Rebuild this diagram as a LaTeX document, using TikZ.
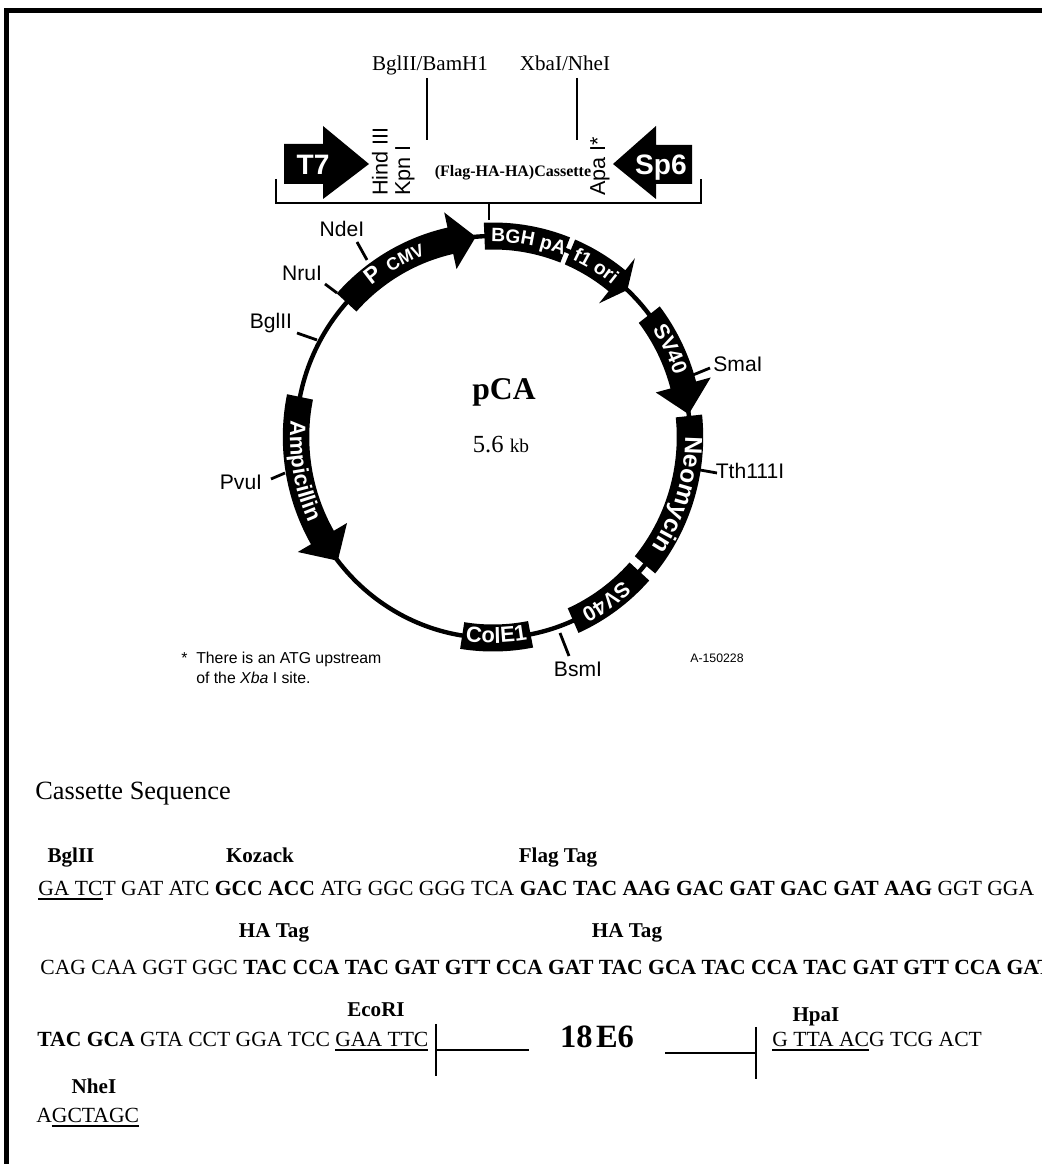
\documentclass[tikz,border=0pt]{standalone}
\usepackage{fontspec}
\setmainfont{Liberation Serif}
\setsansfont{Liberation Sans}
\usetikzlibrary{decorations.text}
\newcommand{\pt}[1]{\fontsize{#1}{#1}\selectfont}
\newcommand{\ubar}[1]{\leavevmode\vtop{\hbox{#1}\kern1pt\hrule height 0.9pt}}
\def\rout{214.5}
\def\rin{187.5}
\def\rmid{201}
\newcommand{\plasmidbar}[2]{\fill (#1:\rout) arc[start angle=#1,end angle=#2,radius=\rout]
  -- (#2:\rin) arc[start angle=#2,end angle=#1,radius=\rin] -- cycle;}
\newcommand{\plasmidarrow}[3]{\fill (#1:\rout) arc[start angle=#1,end angle=#2,radius=\rout]
  -- (#2:230) -- (#3:\rmid) -- (#2:172) -- (#2:\rin) arc[start angle=#2,end angle=#1,radius=\rin] -- cycle;}
\newcommand{\bandlabel}[4]{\path[decorate,decoration={text along path,text align=center,
  text={|\color{white}\sffamily\bfseries\pt{#4}|#3}}] (#1:#2) arc[start angle=#1,end angle=#1+\bandspan,radius=#2];}
\begin{document}
\begin{tikzpicture}[x=0.02cm,y=0.02cm,
   ringline/.style={line width=2.5pt},
   sitetick/.style={line width=1.6pt},
   bracket/.style={line width=1.5pt},
   hairline/.style={line width=1.3pt},
   enzyme/.style={font=\sffamily\pt{12},inner sep=0pt},
   vlabel/.style={font=\sffamily\pt{12.3},inner sep=0pt,rotate=90,anchor=west},
   promoter/.style={font=\sffamily\bfseries\pt{16},text=white,inner sep=0pt,anchor=base},
   sitelabel/.style={font=\pt{12},inner sep=0pt,anchor=base},
   seqline/.style={font=\pt{12.3},inner sep=0pt,anchor=base west},
   taglabel/.style={font=\bfseries\pt{12},inner sep=0pt,anchor=base}]
  \useasboundingbox (0,0) rectangle (1042,1164);
  \fill[white] (0,0) rectangle (1042,1164);
  \draw[line width=2.8pt] (6.5,0) -- (6.5,1153.5) -- (1042,1153.5);

  \node[sitelabel] (bglbam) at (430,1093) {BglII/BamH1};
  \node[sitelabel] (xbanhe) at (565,1093) {XbaI/NheI};
  \draw[sitetick] (427,1086) -- (427,1024);
  \draw[sitetick] (577,1086) -- (577,1024);
  \fill (284,1020) -- (323,1020) -- (323,1038) -- (369,1000) -- (323,965) -- (323,980) -- (284,980) -- cycle;
  \node[promoter] (tseven) at (313,989) {T7};
  \fill (692,1019) -- (656,1019) -- (656,1038) -- (613,1000) -- (656,965) -- (656,980) -- (692,980) -- cycle;
  \node[promoter] (spsix) at (661,989) {Sp6};
  \node[vlabel] (hind) at (380,968) {Hind III};
  \node[vlabel] (kpn) at (405,968) {Kpn I};
  \node[vlabel] (apa) at (600,968) {Apa I*};
  \node[font=\bfseries\pt{9.1},inner sep=0pt] (cassette) at (513,991) {(Flag-HA-HA)Cassette};
  \draw[bracket] (276,985) -- (276,961) -- (701,961) -- (701,985);
  \draw[bracket] (489,961) -- (489,944);

  \begin{scope}[shift={(493,727)},xscale=0.98]
    \draw[ringline] (0,0) circle[radius=\rmid];
    \plasmidarrow{138}{102.5}{95}
    \plasmidbar{92.5}{68.5}
    \plasmidarrow{67}{51}{47}
    \plasmidarrow{37.5}{15}{6.5}
    \plasmidbar{6}{-39.5}
    \plasmidbar{-42}{-66}
    \plasmidbar{-79}{-99}
    \plasmidarrow{168.5}{210}{218}
    \def\bandspan{-24}\bandlabel{139}{195}{P}{13}
    \def\bandspan{-24}\bandlabel{128.5}{195}{CMV}{10}
    \def\bandspan{-26}\bandlabel{92.5}{195}{BGH pA}{11}
    \def\bandspan{-24}\bandlabel{70.5}{195}{f1 ori}{11}
    \def\bandspan{-26}\bandlabel{39}{195}{SV40}{12}
    \def\bandspan{-44}\bandlabel{5}{196}{Neomycin}{14}
    \def\bandspan{-24}\bandlabel{-43}{195}{SV40}{12}
    \def\bandspan{20}\bandlabel{-99}{206}{ColE1}{12.5}
    \def\bandspan{40}\bandlabel{170}{207}{Ampicillin}{12.5}
  \end{scope}

  \draw[sitetick] (357,922) -- (367,904);
  \draw[sitetick] (325,880) -- (337,871);
  \draw[sitetick] (297,831) -- (317,824);
  \draw[sitetick] (271,685) -- (285,691);
  \draw[sitetick] (693,789) -- (710,796);
  \draw[sitetick] (700,694) -- (717,691);
  \draw[sitetick] (560,531) -- (569,508);
  \node[enzyme] (ndei) at (342,935) {NdeI};
  \node[enzyme] (nrui) at (302,891) {NruI};
  \node[enzyme] (bglii) at (271,841) {BglII};
  \node[enzyme] (pvui) at (241,682) {PvuI};
  \node[enzyme] (smai) at (738,800) {SmaI};
  \node[enzyme] (tth) at (750,693) {Tth111I};
  \node[enzyme] (bsmi) at (578,495) {BsmI};
  \node[font=\bfseries\pt{18},inner sep=0pt] (pca) at (504,772) {pCA};
  \node[font=\pt{14},inner sep=0pt] (size) at (501,719) {5.6 {\pt{11}kb}};
  \node[font=\sffamily\fontsize{9}{11.3}\selectfont,inner sep=0pt,anchor=west,align=left] (note) at (181,496)
    {*\hspace{5pt}There is an ATG upstream\\\hspace{8.5pt}of the \textit{Xba} I site.};
  \node[font=\sffamily\pt{7},inner sep=0pt] (code) at (717,506) {A-150228};

  \node[seqline,font=\pt{15}] (title) at (35,364) {Cassette Sequence};
  \node[taglabel] (lbgl) at (71,301) {BglII};
  \node[taglabel] (lkoz) at (260,301) {Kozack};
  \node[taglabel] (lflag) at (558,301) {Flag Tag};
  \node[seqline] (seqa) at (38,268) {\ubar{GA TC}T GAT ATC \textbf{GCC ACC} ATG GGC GGG TCA \textbf{GAC TAC AAG GAC GAT GAC GAT AAG} GGT GGA};
  \node[taglabel] (lhaa) at (274,226) {HA Tag};
  \node[taglabel] (lhab) at (627,226) {HA Tag};
  \node[seqline] (seqb) at (40,189) {CAG CAA GGT GGC \textbf{TAC CCA TAC GAT GTT CCA GAT TAC GCA TAC CCA TAC GAT GTT CCA GAT}};
  \node[taglabel] (leco) at (376,147) {EcoRI};
  \node[taglabel] (lhpa) at (816,142) {HpaI};
  \node[seqline] (seqc) at (37,117) {\textbf{TAC GCA} GTA CCT GGA TCC \ubar{GAA TTC}};
  \node[font=\bfseries\pt{18.5},inner sep=0pt] (esix) at (597,127) {18\hspace{2pt}E6};
  \draw[hairline] (436,140) -- (436,88);
  \draw[bracket] (436,114) -- (529,114);
  \draw[hairline] (756,137) -- (756,85);
  \draw[bracket] (665,111) -- (756,111);
  \node[seqline] (seqd) at (772,117) {\ubar{G TTA AC}G TCG ACT};
  \node[taglabel] (lnhe) at (94,71) {NheI};
  \node[seqline] (seqe) at (36,41) {A\ubar{GCTAGC}};
\end{tikzpicture}
\end{document}
